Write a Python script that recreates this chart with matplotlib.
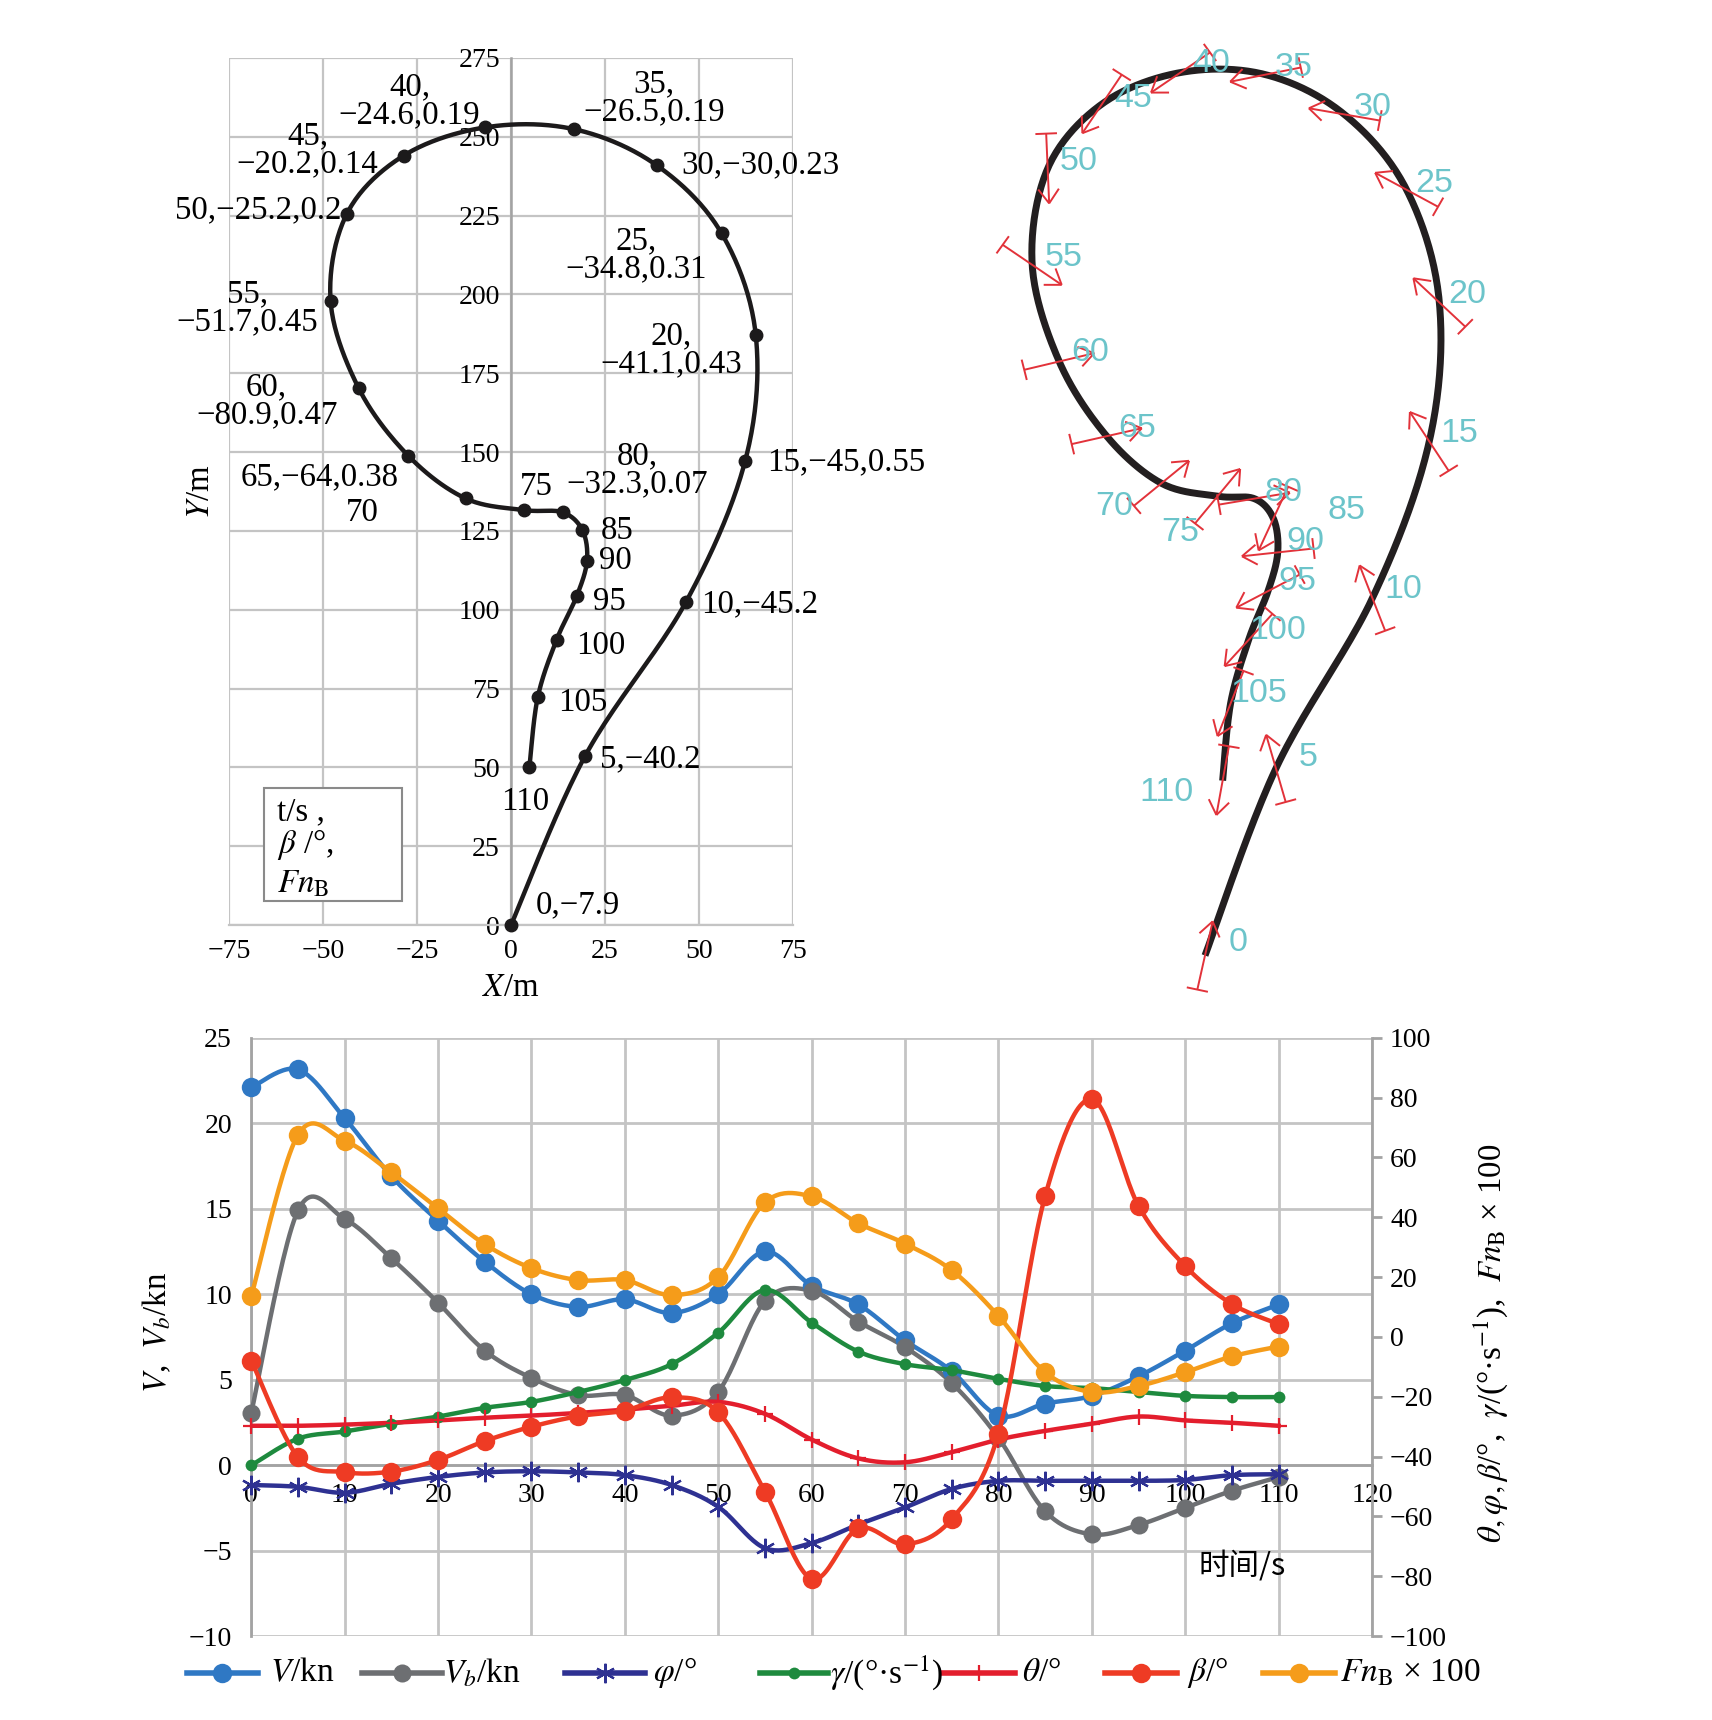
import numpy as np
import matplotlib
matplotlib.use("Agg")
import matplotlib.pyplot as plt
from matplotlib.lines import Line2D
from matplotlib.patches import Rectangle

plt.rcParams['font.family'] = ['Liberation Serif', 'DejaVu Serif']
plt.rcParams['mathtext.fontset'] = 'stix'
plt.rcParams['axes.unicode_minus'] = True

# ---- trajectory: time (s), X (m), Y (m) ----
traj_t = list(range(0, 115, 5))
traj_x = [0, 19.7, 46.5, 62.3, 65.1, 56.0, 38.7, 16.8, -6.8, -28.6, -43.7, -48.0,
          -40.5, -27.3, -12.1, 3.5, 13.7, 19.0, 20.2, 17.5, 12.1, 7.1, 4.9]
traj_y = [0, 53.6, 102.4, 147.3, 187.1, 219.4, 241.0, 252.4, 253.0, 244.0, 225.5, 197.9,
          170.2, 148.8, 135.3, 131.6, 130.9, 125.2, 115.5, 104.4, 90.4, 72.2, 50.1]
point_labels = ["0,\u22127.9", "5,\u221240.2", "10,\u221245.2", "15,\u221245,0.55",
                "20,\n\u221241.1,0.43", "25,\n\u221234.8,0.31", "30,\u221230,0.23",
                "35,\n\u221226.5,0.19", "40,\n\u221224.6,0.19", "45,\n\u221220.2,0.14",
                "50,\u221225.2,0.2", "55,\n\u221251.7,0.45", "60,\n\u221280.9,0.47",
                "65,\u221264,0.38", "70", "75", "80,\n\u221232.3,0.07",
                "85", "90", "95", "100", "105", "110"]

# ---- time histories ----
time_s = list(range(0, 115, 5))
v_kn = [22.1, 23.15, 20.3, 16.9, 14.3, 11.9, 10.0, 9.26, 9.7, 8.9, 10.0, 12.5,
        10.5, 9.4, 7.3, 5.5, 2.9, 3.6, 4.05, 5.2, 6.7, 8.3, 9.4]
vb_kn = [3.08, 14.9, 14.4, 12.1, 9.5, 6.7, 5.1, 4.1, 4.1, 2.9, 4.3, 9.6,
         10.2, 8.4, 6.9, 4.8, 1.6, -2.7, -4.05, -3.5, -2.5, -1.5, -0.7]
phi_deg = [-49.5, -50.1, -52.1, -49.1, -46.8, -45.3, -44.9, -45.3, -46.2, -49.5, -56.8, -70.6,
           -68.9, -62.7, -57.0, -50.8, -48.1, -48.1, -48.1, -48.1, -47.8, -46.2, -45.9]
gamma_dps = [-42.9, -34.0, -31.6, -29.0, -26.6, -23.7, -21.7, -18.4, -14.4, -9.1, 1.4, 15.7,
             4.8, -4.9, -9.1, -11.1, -14.0, -16.4, -17.1, -18.4, -19.7, -20.1, -20.1]
theta_deg = [-29.7, -29.7, -29.3, -28.7, -27.9, -27.0, -26.3, -25.4, -24.3, -23.0, -21.7, -25.7,
             -34.3, -40.6, -41.9, -38.5, -34.3, -31.4, -29.0, -26.6, -27.9, -28.7, -29.7]
beta_deg = [-7.9, -40.2, -45.2, -45.0, -41.1, -34.8, -30.0, -26.5, -24.6, -20.2, -25.2, -51.7,
            -80.9, -64.0, -69.3, -60.9, -32.3, 47.1, 79.5, 43.8, 23.7, 11.0, 4.3]
fn_x100 = [13.7, 67.6, 65.6, 55, 43, 31, 23, 19, 19, 14, 20, 45,
           47, 38, 31.2, 22.3, 7, -11.8, -18.4, -16.4, -11.8, -6.5, -3.2]

GRID = '#c4c4c4'
AXLINE = '#a3a3a3'
INK = '#1c1a1b'
RED = '#e2323a'
CYAN = '#6cc4ca'


def smooth(x, y, n=24):
    # Catmull-Rom curve through the points (like a smoothed line in a spreadsheet)
    pts = np.column_stack([x, y]).astype(float)
    p = np.vstack([pts[0], pts, pts[-1]])
    t = np.linspace(0, 1, n, endpoint=False)[:, None]
    out = []
    for i in range(len(pts) - 1):
        p0, p1, p2, p3 = p[i], p[i + 1], p[i + 2], p[i + 3]
        seg = 0.5 * (2 * p1 + (-p0 + p2) * t + (2 * p0 - 5 * p1 + 4 * p2 - p3) * t ** 2
                     + (-p0 + 3 * p1 - 3 * p2 + p3) * t ** 3)
        out.append(seg)
    out.append(pts[-1:])
    c = np.vstack(out)
    return c[:, 0], c[:, 1]


fig = plt.figure(figsize=(17.12, 17.20), dpi=100)

# ================= top left: trajectory with labels =================
ax = fig.add_axes([0.1338, 0.4622, 0.3294, 0.5041])
ax.set_xlim(-75, 75)
ax.set_ylim(0, 275)
ax.set_xticks(range(-75, 76, 25))
ax.set_yticks(range(0, 276, 25))
ax.grid(True, color=GRID, lw=1.6)
ax.set_axisbelow(True)
for s in ['top', 'right']:
    ax.spines[s].set_visible(False)
ax.spines['left'].set_position(('data', 0))
ax.spines['left'].set_color(AXLINE)
ax.spines['left'].set_linewidth(1.8)
ax.spines['bottom'].set_color(GRID)
ax.spines['bottom'].set_linewidth(1.6)
ax.tick_params(length=0, labelsize=20)
ax.tick_params(axis='x', pad=10)
ax.tick_params(axis='y', pad=8)

sx, sy = smooth(traj_x, traj_y)
ax.plot(sx, sy, color=INK, lw=3.2, zorder=3, solid_capstyle='round')
ax.plot(traj_x, traj_y, 'o', color=INK, ms=9, zorder=4, clip_on=False)

label_layout = [(6.6, 6.2, 'left'), (23.7, 52.6, 'left'), (50.6, 101.7, 'left'),
                (68.1, 146.8, 'left'), (42.6, 182.4, 'center'), (33.2, 212.5, 'center'),
                (45.3, 241.0, 'left'), (38.1, 262.4, 'center'), (-27.0, 261.3, 'center'),
                (-54.1, 245.8, 'center'), (-45.1, 226.8, 'right'), (-70.2, 195.8, 'center'),
                (-65.0, 166.2, 'center'), (-50.8, 142.2, 'center'), (-39.6, 130.6, 'center'),
                (6.7, 139.0, 'center'), (33.6, 144.3, 'center'), (23.9, 125.2, 'left'),
                (23.5, 115.5, 'left'), (21.7, 102.5, 'left'), (17.3, 88.6, 'left'),
                (12.4, 70.4, 'left'), (3.8, 39.1, 'center')]
for txt, (lx, ly, ha) in zip(point_labels, label_layout):
    ax.text(lx, ly, txt, fontsize=23.7, ha=ha, va='center', ma='center',
            linespacing=0.9, zorder=5, clip_on=False)

ax.add_patch(Rectangle((-65.7, 7.7), 36.6, 35.9, facecolor='white',
                       edgecolor='#8a8a8a', lw=1.5, zorder=4))
ax.text(-62.2, 35.7, 't/s ,', fontsize=23.7, va='center', zorder=5)
ax.text(-62.2, 25.5, r'$\beta$ /°,', fontsize=23.7, va='center', zorder=5)
ax.text(-62.2, 13.0, r'$Fn_{\mathrm{B}}$', fontsize=23.7, va='center', zorder=5)

ax.set_xlabel(r'$X$/m', fontsize=23.7)
ax.xaxis.set_label_coords(0.50, -0.055)
ax.set_ylabel(r'$Y$/m', fontsize=23.7)
ax.yaxis.set_label_coords(-0.023, 0.50)

# ================= top right: heading sketch =================
axr = fig.add_axes([0.55491, 0.41279, 0.35631, 0.57558])
axr.set_xlim(-70.83, 98.61)
axr.set_ylim(-15.62, 268.05)
axr.axis('off')
axr.plot(sx, sy, color='#231f20', lw=5, zorder=2, solid_capstyle='butt')

tx, ty = np.array(traj_x), np.array(traj_y)
seg_len, tee, head_len = 20.0, 3.0, 5.0
for i in range(len(traj_t)):
    j0, j1 = max(i - 1, 0), min(i + 1, len(traj_t) - 1)
    course = np.arctan2(ty[j1] - ty[j0], tx[j1] - tx[j0])
    hd = course - np.radians(beta_deg[i])
    ux, uy = np.cos(hd), np.sin(hd)
    x0, y0 = tx[i] - seg_len / 2 * ux, ty[i] - seg_len / 2 * uy
    x1, y1 = tx[i] + seg_len / 2 * ux, ty[i] + seg_len / 2 * uy
    kw = dict(color=RED, lw=1.4, zorder=3, solid_capstyle='butt')
    axr.plot([x0, x1], [y0, y1], **kw)
    axr.plot([x0 - tee * uy, x0 + tee * uy], [y0 + tee * ux, y0 - tee * ux], **kw)
    for sgn in (1, -1):
        a = hd + np.pi + sgn * np.radians(35)
        axr.plot([x1, x1 + head_len * np.cos(a)], [y1, y1 + head_len * np.sin(a)], **kw)

time_label_layout = [(9.2, 3.6), (28.6, 56.6), (55.0, 105.0), (70.6, 149.7), (72.8, 189.5),
                     (63.6, 221.1), (46.7, 243.0), (24.7, 254.3), (1.7, 255.6), (-20.0, 245.5),
                     (-35.0, 227.4), (-39.2, 199.9), (-31.9, 172.9), (-18.9, 151.1),
                     (-25.3, 128.6), (-6.9, 121.3), (21.7, 132.7), (39.4, 127.4),
                     (27.8, 118.5), (25.6, 107.3), (20.2, 93.1), (15.0, 75.2), (-10.6, 46.6)]
for t, (lx, ly) in zip(traj_t, time_label_layout):
    axr.text(lx, ly, str(t), fontsize=24.5, color=CYAN, family='Liberation Sans',
             ha='center', va='center', zorder=4)

# ================= bottom: time histories =================
axb = fig.add_axes([0.1468, 0.0488, 0.6546, 0.3478])
axb.set_xlim(0, 120)
axb.set_ylim(-10, 25)
axb.set_xticks(range(0, 121, 10))
axb.set_yticks(range(-10, 26, 5))
axb.grid(True, color=GRID, lw=2)
axb.set_axisbelow(True)
axb.spines['top'].set_visible(False)
axb.spines['right'].set_visible(False)
axb.spines['bottom'].set_position(('data', 0))
for s in ['bottom', 'left']:
    axb.spines[s].set_color(AXLINE)
    axb.spines[s].set_linewidth(2)
axb.tick_params(length=0, labelsize=20)
axb.tick_params(axis='x', pad=13)
axb.tick_params(axis='y', pad=14)

ax2 = axb.twinx()
ax2.set_ylim(-100, 100)
ax2.set_yticks(range(-100, 101, 20))
for s in ['top', 'left', 'bottom']:
    ax2.spines[s].set_visible(False)
ax2.spines['right'].set_color(AXLINE)
ax2.spines['right'].set_linewidth(2)
ax2.tick_params(axis='y', length=7, width=2, color=AXLINE, labelsize=20, pad=6)

series = [
    (axb, v_kn, '#2f78c4', 'o', 14, r'$V$/kn'),
    (axb, vb_kn, '#6d6f72', 'o', 13, r'$V_b$/kn'),
    (ax2, phi_deg, '#2e3192', (6, 2, 0), 14, r'$\varphi$/°'),
    (ax2, gamma_dps, '#1e8a3e', 'o', 8.5, r'$\gamma$/(°·s$^{-1}$)'),
    (ax2, theta_deg, '#e31e2d', '+', 12, r'$\theta$/°'),
    (ax2, beta_deg, '#ee3b24', 'o', 14, r'$\beta$/°'),
    (ax2, fn_x100, '#f59c1a', 'o', 14, r'$Fn_{\mathrm{B}}$ × 100'),
]
for target, vals, col, mk, ms, lab in series:
    cx, cy = smooth(time_s, vals)
    target.plot(cx, cy, color=col, lw=3.2, zorder=3)
    mew = 1.6 if mk in ('+', (6, 2, 0)) else 0
    target.plot(time_s, vals, linestyle='none', marker=mk, ms=ms, color=col,
                mec=col, mew=mew, zorder=4, clip_on=False)

axb.set_ylabel(r'$V$,  $V_b$/kn', fontsize=23.7)
axb.yaxis.set_label_coords(-0.070, 0.507)
ax2.set_ylabel(r'$\theta,\varphi,\beta$/°,  $\gamma$/(°·s$^{-1}$),  $Fn_{\mathrm{B}}$ × 100',
               fontsize=23.7)
ax2.yaxis.set_label_coords(1.089, 0.49)
axb.text(106.1, -5.9, '时间/s', fontsize=22, ha='center', va='center',
         family=['Noto Sans CJK SC', 'DejaVu Sans'])

# legend drawn along the bottom edge
W, H = 1712, 1720
leg_layout = [(187, 258, 270), (362, 442, 443), (565, 645, 653), (760, 828, 830),
              (943, 1015, 1022), (1105, 1177, 1187), (1263, 1335, 1340)]
ly = 1 - 1673 / H
for (target, vals, col, mk, ms, lab), (h0, h1, tx0) in zip(series, leg_layout):
    mew = 1.6 if mk in ('+', (6, 2, 0)) else 0
    fig.add_artist(Line2D([h0 / W, (h0 + h1) / 2 / W, h1 / W], [ly, ly, ly],
                          color=col, lw=4, marker=mk, markevery=[1], ms=ms,
                          mec=col, mew=mew, transform=fig.transFigure))
    fig.text(tx0 / W, ly, lab, fontsize=24, ha='left', va='center')

fig.savefig('out.png', dpi=100)
